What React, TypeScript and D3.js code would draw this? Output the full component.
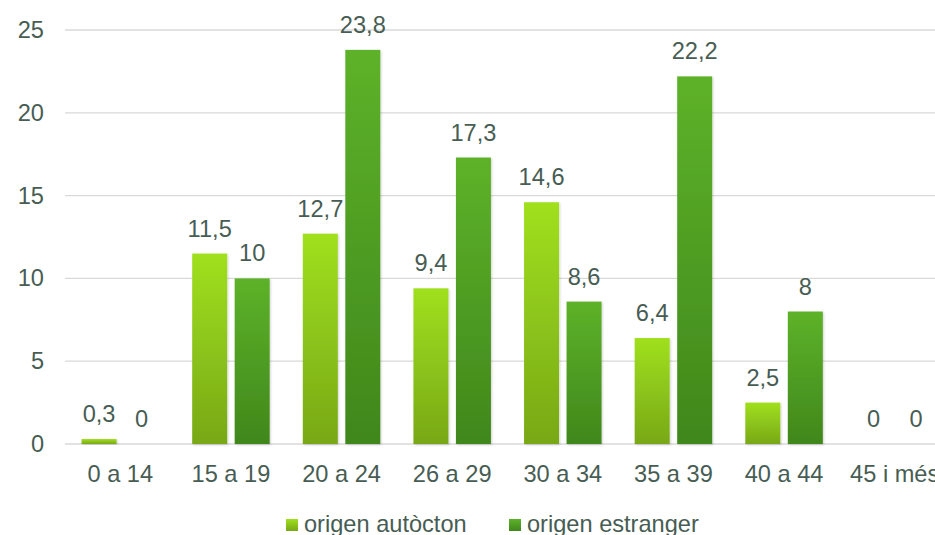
import React from "react";
import * as d3 from "d3";

const categories = ["0 a 14", "15 a 19", "20 a 24", "26 a 29", "30 a 34", "35 a 39", "40 a 44", "45 i més"];
const autocton = [0.3, 11.5, 12.7, 9.4, 14.6, 6.4, 2.5, 0];
const estranger = [0, 10, 23.8, 17.3, 8.6, 22.2, 8, 0];
const seriesNames = ["origen autòcton", "origen estranger"];
const yTicks = [0, 5, 10, 15, 20, 25];

const W = 935;
const H = 535;
const TEXT = "#475D53";
const FONT = "'Liberation Sans', Arial, sans-serif";
const FS = 23.6;

export default function App() {
  const x = d3.scaleBand<string>().domain(categories).range([65, 950]);
  const y = d3.scaleLinear().domain([0, 25]).range([444, 30]);
  const barW = 35;
  const gap = 7.5;
  const fmt = (v: number) => String(v).replace(".", ",");

  const series = [
    { name: seriesNames[0], values: autocton, grad: "gA" },
    { name: seriesNames[1], values: estranger, grad: "gE" },
  ];

  return (
    <svg width={W} height={H} style={{ position: "absolute", left: 0, top: 0, fontFamily: FONT }}>
      <defs>
        <linearGradient id="gA" x1="0" y1="0" x2="0" y2="1">
          <stop offset="0" stopColor="#A0E01E" />
          <stop offset="1" stopColor="#78A817" />
        </linearGradient>
        <linearGradient id="gE" x1="0" y1="0" x2="0" y2="1">
          <stop offset="0" stopColor="#5DB229" />
          <stop offset="1" stopColor="#40871C" />
        </linearGradient>
        <filter id="sh" x="-20%" y="-5%" width="140%" height="115%">
          <feDropShadow dx="1" dy="1" stdDeviation="1.2" floodColor="#000" floodOpacity="0.18" />
        </filter>
      </defs>
      <rect x={0} y={0} width={W} height={H} fill="#fff" />
      {yTicks.map((t) => (
        <g key={t}>
          <line x1={65} x2={W} y1={y(t)} y2={y(t)} stroke="#D9D9D9" strokeWidth={1.3} />
          <text x={44} y={y(t) + 8} textAnchor="end" fontSize={FS} fill={TEXT}>
            {t}
          </text>
        </g>
      ))}
      {categories.map((c, i) => {
        const cx = (x(c) as number) + x.bandwidth() / 2;
        return (
          <g key={c}>
            {series.map((s, si) => {
              const v = s.values[i];
              const bx = si === 0 ? cx - gap / 2 - barW : cx + gap / 2;
              const top = y(v);
              return (
                <g key={s.name}>
                  {v > 0 && (
                    <rect
                      x={bx}
                      y={top}
                      width={barW}
                      height={y(0) - top}
                      fill={`url(#${s.grad})`}
                      filter="url(#sh)"
                    />
                  )}
                  <text x={bx + barW / 2} y={top - 17} textAnchor="middle" fontSize={FS} fill={TEXT}>
                    {fmt(v)}
                  </text>
                </g>
              );
            })}
            <text x={cx} y={482} textAnchor="middle" fontSize={FS} fill={TEXT}>
              {c}
            </text>
          </g>
        );
      })}
      {series.map((s, i) => {
        const lx = i === 0 ? 286 : 509;
        return (
          <g key={s.name}>
            <rect x={lx} y={519} width={12} height={12} fill={`url(#${s.grad})`} />
            <text x={lx + 18} y={532} fontSize={FS} fill={TEXT}>
              {s.name}
            </text>
          </g>
        );
      })}
    </svg>
  );
}
